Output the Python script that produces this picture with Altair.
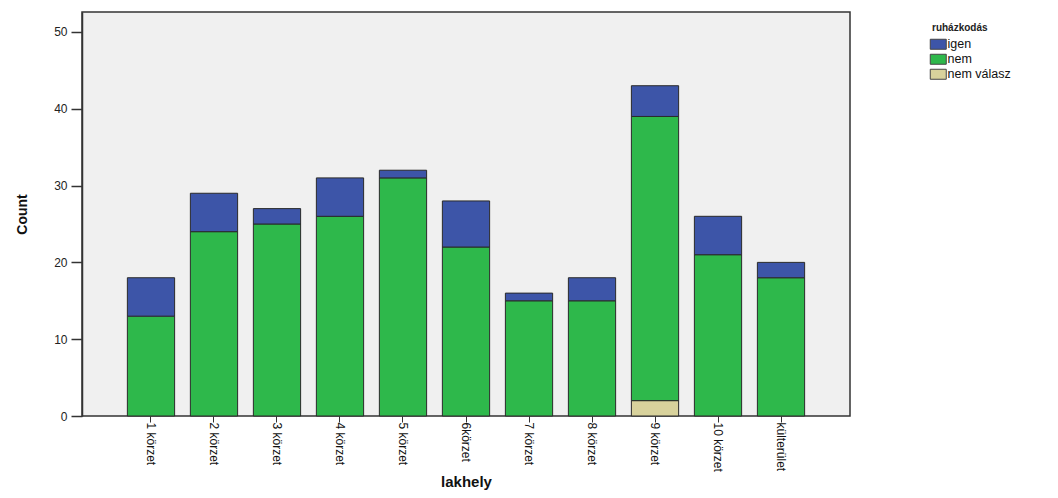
import altair as alt
import pandas as pd

categories = ["1 körzet", "2 körzet", "3 körzet", "4 körzet", "5 körzet", "6körzet",
              "7 körzet", "8 körzet", "9 körzet", "10 körzet", "külterület"]
igen = [5, 5, 2, 5, 1, 6, 1, 3, 4, 5, 2]
nem = [13, 24, 25, 26, 31, 22, 15, 15, 37, 21, 18]
nem_valasz = [0, 0, 0, 0, 0, 0, 0, 0, 2, 0, 0]
groups = ["igen", "nem", "nem válasz"]
colors = ["#3D55A8", "#2EB84B", "#D8D29C"]
y_ticks = [0, 10, 20, 30, 40, 50]

rows = []
for i, c in enumerate(categories):
    for g, vals, o in [("nem válasz", nem_valasz, 0), ("nem", nem, 1), ("igen", igen, 2)]:
        if vals[i] > 0:
            rows.append({"lakhely": c, "grp": g, "Count": vals[i], "o": o})
df = pd.DataFrame(rows)

FONT = "Liberation Sans"

chart = alt.Chart(df).mark_bar(stroke="#2a2a2a", strokeWidth=1).encode(
    x=alt.X("lakhely:N", sort=categories,
            scale=alt.Scale(paddingInner=0.25, paddingOuter=0.72),
            axis=alt.Axis(title="lakhely", labelAngle=90, labelAlign="left",
                          labelBaseline="middle", labelFontSize=12, labelColor="#111",
                          labelPadding=0, tickSize=6, tickColor="#333", domain=False,
                          titleFontSize=15, titleFontWeight="bold", titleColor="#111",
                          titleX=384, titleY=70, titleBaseline="alphabetic")),
    y=alt.Y("Count:Q", scale=alt.Scale(domain=[0, 52.6], nice=False),
            axis=alt.Axis(title="Count", values=y_ticks, grid=False, tickSize=11,
                          tickColor="#333", tickWidth=1.5, domainColor="#333", domainWidth=1.5,
                          labelFontSize=12, labelColor="#222", labelPadding=4,
                          titleFontSize=14, titleFontWeight="bold", titleColor="#111",
                          titleX=-60, titleY=202, titleAngle=-90, titleAlign="center",
                          titleBaseline="middle")),
    color=alt.Color("grp:N", scale=alt.Scale(domain=groups, range=colors),
                    legend=alt.Legend(title="ruházkodás", orient="none", legendX=850, legendY=11,
                                      titleFontSize=10, titleFontWeight="bold", titleColor="#222",
                                      titlePadding=5,
                                      labelFontSize=12.5, labelColor="#111", labelOffset=3,
                                      symbolType="M-1.6,-1H1.6V1H-1.6Z", symbolSize=100,
                                      symbolStrokeColor="#444", symbolStrokeWidth=1,
                                      rowPadding=0, symbolOpacity=1)),
    order=alt.Order("o:Q"),
).properties(
    width=768, height=404,
    autosize=alt.AutoSizeParams(type="none"),
    padding={"left": 74, "top": 4, "right": 200, "bottom": 74},
).configure(font=FONT).configure_view(fill="#F0F0F0", stroke="#333", strokeWidth=1.5)

chart.save("out.html", embed_options={"renderer": "svg", "actions": False})
